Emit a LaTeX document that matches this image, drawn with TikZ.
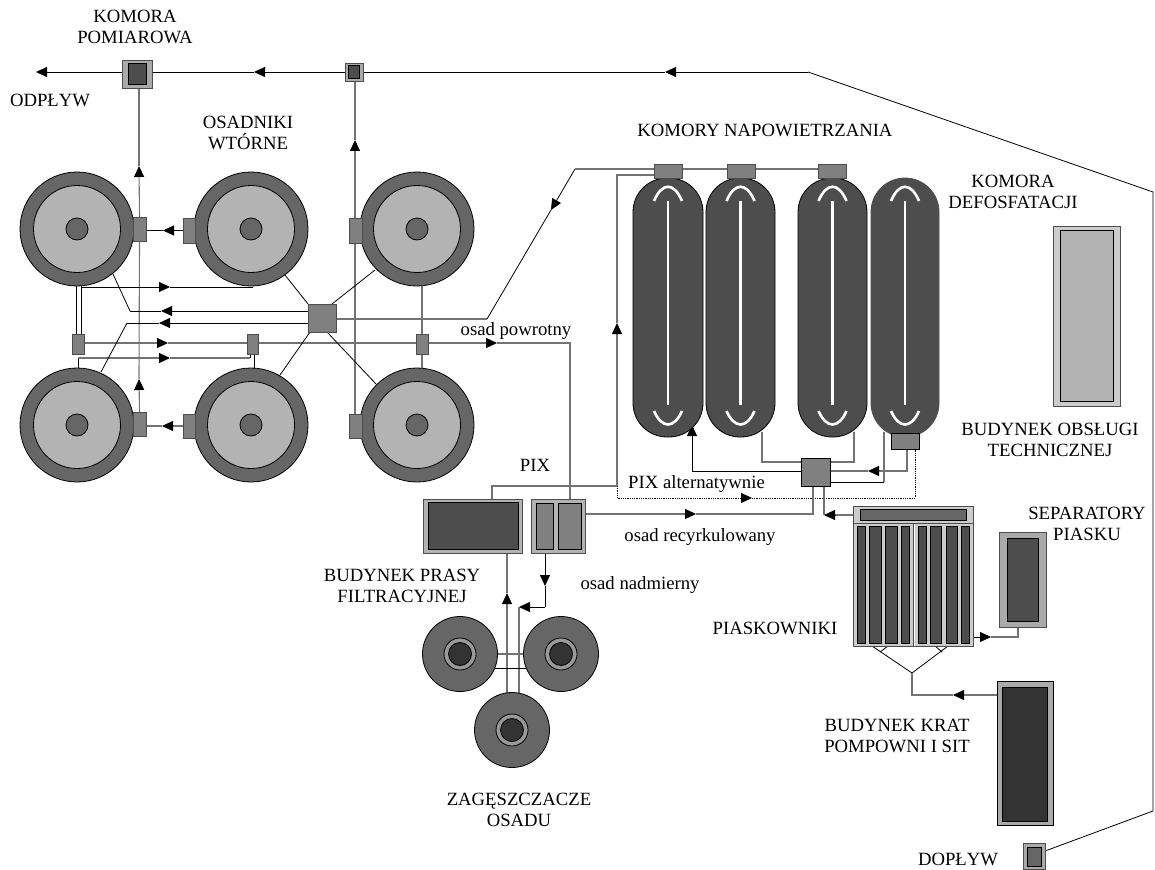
\documentclass[tikz,border=0pt]{standalone}
\usepackage{fontspec}
\setmainfont{Liberation Serif}
\usetikzlibrary{arrows.meta,backgrounds}
\definecolor{dk}{HTML}{4D4D4D}
\definecolor{vd}{HTML}{333333}
\definecolor{md}{HTML}{666666}
\definecolor{gr}{HTML}{808080}
\definecolor{lg}{HTML}{B3B3B3}
\definecolor{ll}{HTML}{CCCCCC}
\definecolor{ol}{HTML}{AAAAAA}
\tikzset{
  pipe/.style={draw=black,line width=0.8pt},
  gpipe/.style={draw=black!55,line width=1.1pt},
  dotpipe/.style={draw=black,line width=0.8pt,densely dotted},
  flow/.style={-{Triangle[length=11pt,width=10pt,color=black]}},
  part/.style={draw=black,line width=0.8pt,inner sep=0pt,outer sep=0pt,rectangle},
  disc/.style={draw=black,line width=0.8pt,inner sep=0pt,outer sep=0pt,circle},
  lab/.style={font=\fontsize{18.7}{20.5}\selectfont,inner sep=0pt,align=center},
  curl/.style={draw=white,line width=2.6pt}
}
\newcommand{\bx}[6][]{%
  \pgfmathsetmacro{\wdd}{#5-#3}\pgfmathsetmacro{\htt}{#6-#4}%
  \pgfmathsetmacro{\cxx}{(#5+#3)/2}\pgfmathsetmacro{\cyy}{(#6+#4)/2}%
  \node[part,minimum width=\wdd pt,minimum height=\htt pt,#1] (#2) at (\cxx,\cyy) {};}
\newcommand{\osadnik}[3]{%
  \node[disc,fill=md,minimum size=114pt] (#1) at (#2,#3) {};
  \node[disc,fill=lg,minimum size=87pt] (#1i) at (#2,#3) {};
  \node[disc,fill=md,minimum size=22pt] (#1c) at (#2,#3) {};}
\newcommand{\zag}[3]{%
  \node[disc,fill=md,minimum size=75pt] (#1) at (#2,#3) {};
  \node[disc,fill=black!40,minimum size=32pt] (#1i) at (#2,#3) {};
  \node[disc,fill=vd,minimum size=23pt] (#1c) at (#2,#3) {};}
\begin{document}
\begin{tikzpicture}[x=1pt,y=-1pt]
\useasboundingbox (0,0) rectangle (1155,869);

% settlers
\osadnik{o1}{77}{229}
\osadnik{o2}{251}{229}
\osadnik{o3}{417}{229}
\osadnik{o4}{77}{425}
\osadnik{o5}{251}{425}
\osadnik{o6}{417}{425}
\bx[fill=gr,draw=dk]{s1}{133}{217}{146}{241}
\bx[fill=gr,draw=dk]{s2}{183}{218}{195}{243}
\bx[fill=gr,draw=dk]{s3}{349}{218}{362}{243}
\bx[fill=gr,draw=dk]{s4}{133}{412}{146}{436}
\bx[fill=gr,draw=dk]{s5}{183}{414}{195}{438}
\bx[fill=gr,draw=dk]{s6}{349}{414}{362}{438}
\bx[fill=gr,draw=dk]{d1}{72}{334}{84}{354}
\bx[fill=gr,draw=dk]{d2}{247}{334}{258}{354}
\bx[fill=gr,draw=dk]{d3}{416}{334}{428}{354}
\bx[fill=gr,draw=dk]{cc}{308}{304}{336}{332}

% chambers on top line
\bx[fill=ol,draw=dk]{kp}{122}{60}{152}{88}
\bx[fill=dk]{kpi}{128}{63}{146}{84}
\bx[fill=ol,draw=dk]{ks}{345}{63}{363}{81}
\bx[fill=dk]{ksi}{348}{65}{359}{78}

% aeration tanks
\foreach \n/\cx/\w/\edge in {1/668/70/black,2/740.5/69/black,3/832.5/69/black,4/905/68/dk}{
  \node[part,draw=\edge,fill=dk,rounded corners=34pt,minimum width=\w pt,minimum height=259pt] (t\n) at (\cx,307.5) {};
  \draw[curl] (\cx,201) -- (\cx,405);
  \draw[curl] (\cx-14,201) .. controls (\cx-6,182) and (\cx+6,182) .. (\cx+14,201);
  \draw[curl] (\cx-14,411) .. controls (\cx-6,429) and (\cx+6,429) .. (\cx+14,411);
}
\bx[fill=gr,draw=dk]{h1}{654}{164}{682}{178}
\bx[fill=gr,draw=dk]{h2}{727}{164}{755}{178}
\bx[fill=gr,draw=dk]{h3}{818}{164}{846}{178}
\bx[fill=gr]{h4}{891}{433}{919}{449}
\bx[fill=gr]{mix}{801}{458}{830}{486}

% technical building
\bx[fill=ll,draw=dk]{tb}{1053}{226}{1120}{406}
\bx[fill=lg]{tbi}{1060}{230}{1113}{401}

% filter press and pumping
\bx[fill=lg,draw=dk]{pr}{423}{499}{522}{553}
\bx[fill=dk]{pri}{428}{502}{518}{549}
\bx[fill=lg,draw=dk]{pm}{531}{499}{585}{553}
\bx[fill=gr]{pm1}{536}{503}{553}{549}
\bx[fill=gr]{pm2}{558}{503}{581}{549}

% thickeners
\zag{z1}{460}{654}
\zag{z2}{561}{654}
\zag{z3}{512}{730}

% grit chambers
\bx[fill=ll,draw=dk]{pk}{853}{506}{973}{646}
\draw[draw=dk,line width=0.8pt] (913,523) -- (913,646);
\draw[draw=dk,line width=0.8pt] (853,523) -- (973,523);
\draw[white,line width=1.2pt] (914.5,524) -- (914.5,646);
\bx[fill=md]{pkh}{860}{509}{966}{520}
\foreach \a/\b/\i in {857/865/1,869/881/2,885/897/3,901/909/4,918/926/5,930/941/6,946/957/7,961/969/8}{
  \bx[fill=dk]{pb\i}{\a}{526}{\b}{643}
}
% separators
\bx[fill=ol,draw=dk]{sp}{999}{532}{1046}{627}
\bx[fill=dk]{spi}{1007}{538}{1038}{621}
% screens building
\bx[fill=ol]{kr}{997}{681}{1053}{825}
\bx[fill=vd]{kri}{1002}{687}{1047}{821}
% inlet
\bx[fill=ol,draw=dk]{dp}{1023}{843}{1045}{869}
\bx[fill=md]{dpi}{1027}{847}{1041}{866}

\coordinate (topBend) at (808,72);
\coordinate (rightTop) at (1153,192);
\coordinate (rightBot) at (1153,811);
\coordinate (krBend) at (912,695);
\coordinate (fork) at (912,673);

\begin{scope}[on background layer]
% top line
\draw[pipe,flow] (topBend) -- (665,72);
\draw[pipe] (665,72) -- (ks);
\draw[pipe] ([yshift=5pt]dp.east) -- (rightBot) -- (rightTop) -- (topBend);
\draw[pipe,flow] (ks) -- (254,72);
\draw[pipe] (254,72) -- (kp.east |- ks);
\draw[pipe,flow] (kp.west |- ks) -- (36,72);

% outlet collectors
\draw[gpipe,flow] (s4.north) -- (139,379);
\draw[gpipe] (139,379) -- (s1.south);
\draw[gpipe,flow] (s1.north) -- (139,166);
\draw[gpipe] (139,166) -- (139,88);
\draw[gpipe,flow] (355,414) -- (355,140);
\draw[gpipe] (355,140) -- (355,81);
\draw[pipe,flow] (s2.west) -- (163,230.5);
\draw[pipe] (163,230.5) -- (s1.east |- s2);
\draw[gpipe,flow] (s5.west) -- (162,426);
\draw[gpipe] (162,426) -- (s4.east |- s5);

% return lines between settlers
\draw[pipe,flow] (82,287) -- (170,287);
\draw[pipe] (170,287) -- (253,287);
\draw[pipe] (76,286) -- (76,334);
\draw[pipe] (81,286) -- (81,334);
\draw[gpipe,flow] (d1.east |- 0,343) -- (168,343);
\draw[gpipe] (168,343) -- (d2.west |- 0,343);
\draw[gpipe] (d2.east |- 0,343) -- (d3.west |- 0,343);
\draw[gpipe,flow] (d3.east |- 0,343) -- (497,343);
\draw[gpipe] (497,343) -- (570,343) -- (570,499);
\draw[pipe] (78,368) -- (78,358);
\draw[gpipe,flow] (78,358) -- (170,358);
\draw[gpipe] (170,358) -- (250,358);
\draw[pipe] (250,358) -- (250,354);
\draw[pipe] (254,354) -- (254,368);
\draw[gpipe] (o3.south -| d3) -- (d3.north);
\draw[gpipe] (d3.south) -- (422,368);

% central chamber
\draw[pipe] (113,274) -- (130,311);
\draw[pipe,flow] (cc.west |- 0,311) -- (161,311);
\draw[pipe] (161,311) -- (130,311);
\draw[pipe] (101,372) -- (127,323);
\draw[pipe,flow] (cc.west |- 0,323) -- (159,323);
\draw[pipe] (159,323) -- (127,323);
\draw[pipe] (285,275) -- (cc.north west);
\draw[pipe] (375,270) -- ([xshift=-4pt]cc.north east);
\draw[pipe] (280,375) -- ([xshift=2pt]cc.south west);
\draw[pipe] (376,384) -- ([xshift=-9pt]cc.south east);
\draw[gpipe] (cc.east |- 0,319) -- (487,319);
\draw[pipe] (487,319) -- (551,210);
\draw[pipe,flow] (575,169) -- (551,210);
\draw[gpipe] (575,169) -- (h3.west |- 0,169);

% return sludge to aeration tanks
\draw[gpipe,flow] (617,486) -- (617,323);
\draw[gpipe] (617,323) -- (617,175) -- (h1.west |- 0,175);
\draw[gpipe] (492,499) -- (492,486) -- (617,486);
\draw[dotpipe,flow] (617,486) -- (617,498) -- (752,498);
\draw[dotpipe] (752,498) -- (915,498) -- (915,449);

% mixing chamber
\draw[pipe,flow] (mix.west |- 0,471) -- (692,471) -- (692,425);
\draw[gpipe] (mix.west |- 0,462) -- (762,462) -- (762,432);
\draw[gpipe] (mix.east |- 0,462) -- (854,462) -- (854,432);
\draw[gpipe,flow] (907,449) -- (907,471) -- (868,471);
\draw[gpipe] (868,471) -- (mix.east |- 0,471);
\draw[pipe] (mix.east |- 0,482) -- (884,482);
\draw[gpipe] (884,482) -- (884,432);
\draw[gpipe,flow] (pm.east |- 0,514) -- (696,514);
\draw[gpipe] (696,514) -- (813,514) -- (813,486);
\draw[gpipe] (824,486) -- (824,515);
\draw[gpipe] (pk.west |- 0,515) -- (835,515);
\draw[pipe,flow] (835,515) -- (824,515);

% sludge line
\draw[gpipe,flow] (507,694) -- (507,593);
\draw[gpipe] (507,593) -- (507,553);
\draw[pipe,flow] (545,553) -- (545,586);
\draw[pipe] (545,586) -- (545,607);
\draw[pipe,flow] (545,607) -- (519,607);
\draw[gpipe] (519,607) -- (519,694);
\draw[gpipe] (497,654) -- (525,654);
\draw[pipe] (495,668) -- (527,668);

% grit chamber lines
\draw[pipe] (872,646) -- (fork) -- (948,646);
\draw[pipe] (888,646) -- (880,652);
\draw[pipe] (935,646) -- (942,652);
\draw[gpipe,flow] (kr.west |- krBend) -- (953,695);
\draw[gpipe] (953,695) -- (krBend) -- (fork);
\draw[pipe,flow] (pk.east |- 0,637) -- (991,637);
\draw[gpipe] (991,637) -- (1018,637) -- (1018,627);
\end{scope}

% labels
\node[lab] (l1) at (135,27) {KOMORA\\POMIAROWA};
\node[lab] (l2) at (50,100) {ODPŁYW};
\node[lab] (l3) at (248,133) {OSADNIKI\\WTÓRNE};
\node[lab] (l4) at (765,130) {KOMORY NAPOWIETRZANIA};
\node[lab] (l5) at (1013,192) {KOMORA\\DEFOSFATACJI};
\node[lab] (l6) at (1050,440) {BUDYNEK OBSŁUGI\\TECHNICZNEJ};
\node[lab] (l7) at (535,465) {PIX};
\node[lab] (l8) at (696.5,484) {PIX alternatywnie};
\node[lab] (l9) at (516,331) {osad powrotny};
\node[lab] (l10) at (700,537) {osad recyrkulowany};
\node[lab] (l11) at (640,585) {osad nadmierny};
\node[lab] (l12) at (402,586) {BUDYNEK PRASY\\FILTRACYJNEJ};
\node[lab] (l13) at (519,810) {ZAGĘSZCZACZE\\OSADU};
\node[lab] (l14) at (775,628) {PIASKOWNIKI};
\node[lab] (l15) at (1087,524) {SEPARATORY\\PIASKU};
\node[lab] (l16) at (897,736) {BUDYNEK KRAT\\POMPOWNI I SIT};
\node[lab] (l17) at (958,859) {DOPŁYW};
\end{tikzpicture}
\end{document}
